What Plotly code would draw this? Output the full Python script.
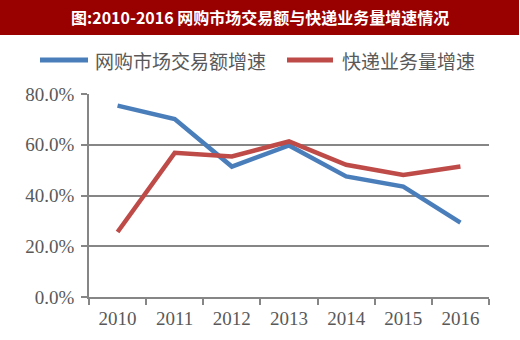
import plotly.graph_objects as go

# Data
years = ["2010", "2011", "2012", "2013", "2014", "2015", "2016"]
online_growth = [75.4, 70.1, 51.4, 59.7, 47.5, 43.5, 29.3]
express_growth = [25.6, 56.8, 55.4, 61.3, 52.1, 48.1, 51.4]
series_names = ["网购市场交易额增速", "快递业务量增速"]
series_colors = ["#4A7EBB", "#BE4B48"]
y_ticks = [0, 20, 40, 60, 80]
y_tick_text = ["0.0%", "20.0%", "40.0%", "60.0%", "80.0%"]
title_text = "图:2010-2016 网购市场交易额与快递业务量增速情况"

W, H = 520, 340
M_L, M_R, M_T, M_B = 89, 31, 94, 43
PW, PH = W - M_L - M_R, H - M_T - M_B


def px_x(x):
    return (x - M_L) / PW


def px_y(y):
    return (H - M_B - y) / PH


fig = go.Figure()
for name, vals, col in zip(series_names, [online_growth, express_growth], series_colors):
    fig.add_trace(go.Scatter(
        x=years, y=vals, name=name, mode="lines",
        line=dict(color=col, width=4.5), showlegend=False,
    ))

shapes = [
    # title banner
    dict(type="rect", xref="paper", yref="paper",
         x0=px_x(0), x1=px_x(519), y0=px_y(35), y1=px_y(0),
         fillcolor="#990000", line=dict(width=0), layer="below"),
]
annotations = [
    dict(text=title_text, xref="paper", yref="paper", x=px_x(260), y=px_y(17.5),
         xanchor="center", yanchor="middle", showarrow=False,
         font=dict(family="Noto Sans CJK SC", size=16, color="white", weight="bold")),
]

# legend
legend_items = [(40, 88, 93), (287, 333, 340)]
for (lx0, lx1, tx), name, col in zip(legend_items, series_names, series_colors):
    shapes.append(dict(type="line", xref="paper", yref="paper",
                       x0=px_x(lx0), x1=px_x(lx1), y0=px_y(60), y1=px_y(60),
                       line=dict(color=col, width=5)))
    annotations.append(dict(text=name, xref="paper", yref="paper",
                            x=px_x(tx), y=px_y(60), xanchor="left", yanchor="middle",
                            showarrow=False,
                            font=dict(family="Noto Sans CJK SC", size=19, color="#595959")))

axis_font = dict(family="Liberation Serif", size=19, color="#595959")
fig.update_layout(
    width=W, height=H,
    margin=dict(l=M_L, r=M_R, t=M_T, b=M_B),
    paper_bgcolor="white", plot_bgcolor="white",
    shapes=shapes, annotations=annotations,
    xaxis=dict(
        type="category", range=[-0.5, 6.5], tickson="boundaries",
        ticks="outside", ticklen=6, tickcolor="#868686", tickwidth=1.5,
        showline=True, linecolor="#868686", linewidth=1.5,
        showgrid=False, tickfont=axis_font, fixedrange=True,
        ticklabelstandoff=3,
    ),
    yaxis=dict(
        range=[0, 80], tickvals=y_ticks, ticktext=y_tick_text,
        ticks="outside", ticklen=6, tickcolor="#868686", tickwidth=1.5,
        showline=True, linecolor="#868686", linewidth=1.5,
        showgrid=True, gridcolor="#868686", gridwidth=1.5,
        zeroline=False, tickfont=axis_font, fixedrange=True,
        ticklabelstandoff=3,
    ),
)

fig.write_html("out.html")
